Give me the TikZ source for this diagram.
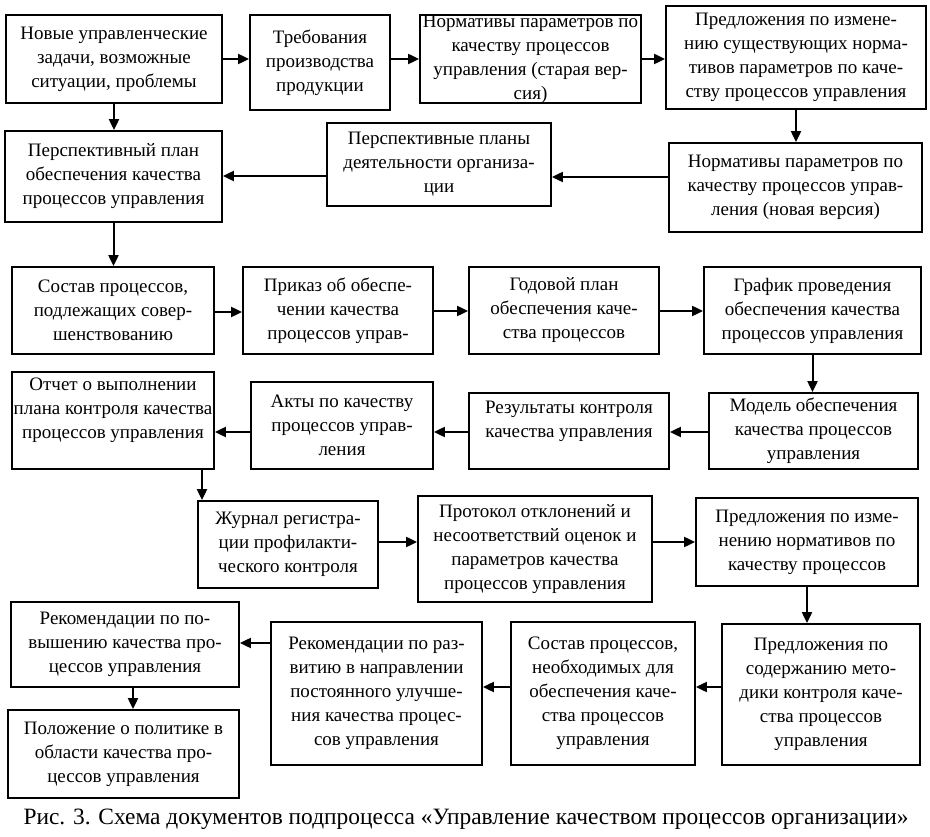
\documentclass[tikz,border=0pt]{standalone}
\usepackage{fontspec}
\setmainfont{Liberation Serif}
\usetikzlibrary{arrows.meta}
\begin{document}
\begin{tikzpicture}[x=1pt,y=-1pt,
  box/.style={draw, line width=1.8pt, inner sep=0pt, align=center,
    font=\fontsize{19}{24}\selectfont},
  arr/.style={line width=2pt, -{Triangle[length=11pt,width=10pt]}},
  caption/.style={font=\fontsize{23.4}{27}\selectfont}]
\useasboundingbox (0,0) rectangle (930,837);
% row 1
\node[box, minimum width=216, minimum height=88] (b1) at (114,59) {Новые управленческие\\задачи, возможные\\ситуации, проблемы};
\node[box, minimum width=140, minimum height=95] (b2) at (320,62.5) {Требования\\производства\\продукции};
\node[box, minimum width=221, minimum height=88] (b3) at (530.5,59) {Нормативы параметров по\\качеству процессов\\управления (старая вер-\\сия)};
\node[box, minimum width=260, minimum height=103] (b4) at (796,57.5) {Предложения по измене-\\нию существующих норма-\\тивов параметров по каче-\\ству процессов управления};
% row 2
\node[box, minimum width=253, minimum height=89] (b5) at (795.5,187.5) {Нормативы параметров по\\качеству процессов управ-\\ления (новая версия)};
\node[box, minimum width=224, minimum height=83] (b6) at (439,164.5) {Перспективные планы\\деятельности организа-\\ции};
\node[box, minimum width=217, minimum height=91] (b7) at (113.5,176.5) {Перспективный план\\обеспечения качества\\процессов управления};
% row 3
\node[box, minimum width=202, minimum height=87] (b8) at (113,310.5) {Состав процессов,\\подлежащих совер-\\шенствованию};
\node[box, minimum width=190, minimum height=87] (b9) at (338,310.5) {Приказ об обеспе-\\чении качества\\процессов управ-};
\node[box, minimum width=190, minimum height=87] (b10) at (564,310.5) {Годовой план\\обеспечения каче-\\ства процессов};
\node[box, minimum width=217, minimum height=87] (b11) at (812.5,310.5) {График проведения\\обеспечения качества\\процессов управления};
% row 4
\node[box, minimum width=209, minimum height=76] (b12) at (813.5,431) {Модель обеспечения\\качества процессов\\управления};
\node[box, minimum width=200, minimum height=76] (b13) at (569,431) {Результаты контроля\\качества управления\\\mbox{}};
\node[box, minimum width=182, minimum height=87] (b14) at (342,425.5) {Акты по качеству\\процессов управ-\\ления};
\node[box, minimum width=202, minimum height=97] (b15) at (113,420.5) {Отчет о выполнении\\плана контроля качества\\процессов управления\\\mbox{}};
% row 5
\node[box, minimum width=180, minimum height=87] (b16) at (288,544.5) {Журнал регистра-\\ции профилакти-\\ческого контроля};
\node[box, minimum width=234, minimum height=106] (b17) at (535,549) {Протокол отклонений и\\несоответствий оценок и\\параметров качества\\процессов управления};
\node[box, minimum width=222, minimum height=88] (b18) at (807,542) {Предложения по изме-\\нению нормативов по\\качеству процессов};
% row 6
\node[box, minimum width=198, minimum height=141] (b19) at (821,694.5) {Предложения по\\содержанию мето-\\дики контроля каче-\\ства процессов\\управления};
\node[box, minimum width=184, minimum height=143] (b20) at (603,693.5) {Состав процессов,\\необходимых для\\обеспечения каче-\\ства процессов\\управления};
\node[box, minimum width=211, minimum height=143] (b21) at (376.5,693.5) {Рекомендации по раз-\\витию в направлении\\постоянного улучше-\\ния качества процес-\\сов управления};
\node[box, minimum width=228, minimum height=85] (b22) at (125,644.5) {Рекомендации по по-\\вышению качества про-\\цессов управления};
\node[box, minimum width=231, minimum height=88] (b23) at (123.5,754) {Положение о политике в\\области качества про-\\цессов управления};
% caption
\node[caption] (cap) at (466,819) {Рис. 3. Схема документов подпроцесса «Управление качеством процессов организации»};
% arrows
\draw[arr] (b1.east) -- (b2.west |- b1.east);
\draw[arr] (b2.east |- b3.west) -- (b3.west);
\draw[arr] (b3.east) -- (b4.west |- b3.east);
\draw[arr] (b4.south) -- (b5.north -| b4.south);
\draw[arr] (b5.west |- 0,177) -- (b6.east |- 0,177);
\draw[arr] (b6.west |- 0,176) -- (b7.east |- 0,176);
\draw[arr] (b1.south) -- (b7.north -| b1.south);
\draw[arr] (b7.south) -- (b8.north -| b7.south);
\draw[arr] (b8.east |- 0,312) -- (b9.west |- 0,312);
\draw[arr] (b9.east |- 0,311) -- (b10.west |- 0,311);
\draw[arr] (b10.east |- 0,311) -- (b11.west |- 0,311);
\draw[arr] (b11.south) -- (b12.north -| b11.south);
\draw[arr] (b12.west |- 0,432) -- (b13.east |- 0,432);
\draw[arr] (b13.west |- 0,432) -- (b14.east |- 0,432);
\draw[arr] (b14.west |- 0,432) -- (b15.east |- 0,432);
\draw[arr] (b15.south -| 202,0) -- (b16.north -| 202,0);
\draw[arr] (b16.east |- 0,542) -- (b17.west |- 0,542);
\draw[arr] (b17.east |- 0,542) -- (b18.west |- 0,542);
\draw[arr] (b18.south) -- (b19.north -| b18.south);
\draw[arr] (b19.west |- 0,687) -- (b20.east |- 0,687);
\draw[arr] (b20.west |- 0,687) -- (b21.east |- 0,687);
\draw[arr] (b21.west |- 0,643) -- (b22.east |- 0,643);
\draw[arr] (b22.south -| 133,0) -- (b23.north -| 133,0);
\end{tikzpicture}
\end{document}
